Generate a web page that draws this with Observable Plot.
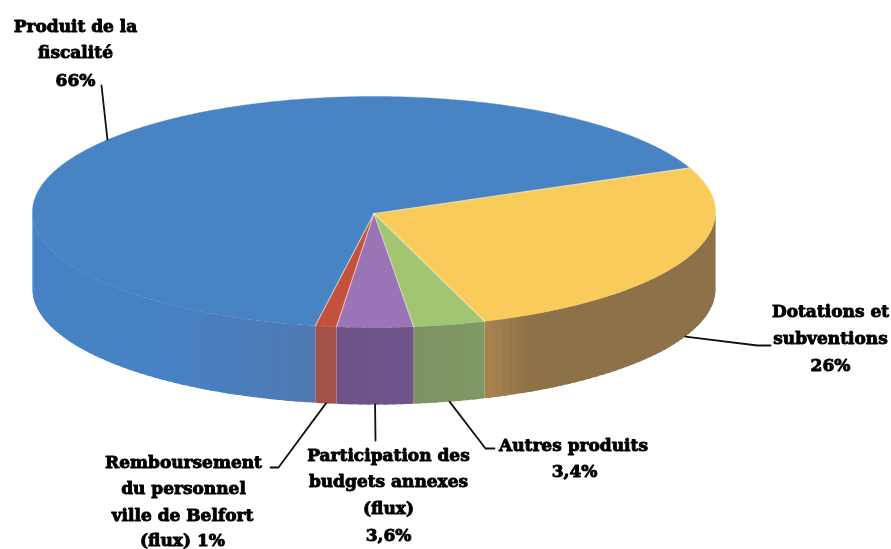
<!DOCTYPE html>
<html lang="fr">
<head>
<meta charset="utf-8">
<script src="https://cdn.jsdelivr.net/npm/d3@7"></script>
<script src="https://cdn.jsdelivr.net/npm/@observablehq/plot@0.6"></script>
<style>
html,body{margin:0;padding:0;background:#fff;}
svg{display:block;filter:blur(0.5px);}
</style>
</head>
<body>
<div id="chart"></div>
<script>
// Data, clockwise from the top of the yellow slice
const categories = ["Dotations et subventions", "Autres produits", "Participation des budgets annexes (flux)", "Remboursement du personnel ville de Belfort (flux)", "Produit de la fiscalité"];
const shares = [26, 3.4, 3.6, 1, 66];
const topColors = ["#f8cb5a", "#a2c574", "#9a74b4", "#c4503e", "#4884c4"];
const sideColorsFrom = ["#8d7148", "#7f9864", "#6f5389", "#a2524b", "#5179b4"];
const sideColorsTo = ["#a9844f", "#7f9362", "#6e5288", "#a4514a", "#4682c4"];
const sideRampStart = [0.88, 0, 0, 0, 0];
const sideRampEnd = [1, 1, 1, 1, 0.35];

// Label text and its placement
const labelLines = [
  ["Produit de la", 75, 31], ["fiscalité", 75, 57], ["66%", 75, 85],
  ["Dotations et", 830, 316], ["subventions", 830, 343], ["26%", 830, 370],
  ["Autres produits", 573, 450], ["3,4%", 574, 476],
  ["Participation des", 388, 460], ["budgets annexes", 388, 486], ["(flux)", 388, 513], ["3,6%", 388, 540],
  ["Remboursement", 183, 467], ["du personnel", 183, 493], ["ville de Belfort", 182, 520], ["(flux) 1%", 182, 545]
];
// Where each leader ends near its label, one list per category in `categories` order
const leaderEnds = [
  [[757, 345], [770, 345]],
  [[485, 448], [494, 448]],
  [[375, 440]],
  [[278, 467], [270, 467]],
  [[101, 85]]
];

// Pie geometry (tilted ellipse)
const cx = 373.5, cy = 211.5, rx = 341.5, ry = 115.5, depth = 77, startAngle = 67.5;
const rad = d => d * Math.PI / 180;
const rim = (t, drop = 0) => [cx + rx * Math.sin(rad(t)), cy - ry * Math.cos(rad(t)) + drop];
const total = d3.sum(shares);
let acc = startAngle;
const slices = categories.map((name, i) => {
  const a0 = acc, a1 = acc + shares[i] / total * 360;
  acc = a1;
  return {name, i, a0, a1, mid: (a0 + a1) / 2};
});

const topPts = [], sidePts = [], edgePts = [], leaderPts = [];
for (const s of slices) {
  // top face
  topPts.push({id: s.name, color: topColors[s.i], p: [cx, cy + 1.5]});
  const n = Math.ceil((s.a1 - s.a0) / 0.5);
  for (let k = 0; k <= n; k++) topPts.push({id: s.name, color: topColors[s.i], p: rim(s.a0 + (s.a1 - s.a0) * k / n)});
  // radial highlight at the slice start
  edgePts.push({id: s.name, p: [cx, cy + 1.5]}, {id: s.name, p: rim(s.a0)});
  // front wall, in overlapping strips shaded along the arc
  const v0 = Math.max(s.a0, 90), v1 = Math.min(s.a1, 270);
  if (v1 > v0) {
    const m = Math.max(1, Math.ceil((v1 - v0) / 1.5));
    const step = (v1 - v0) / m;
    const mix = d3.interpolateRgb(sideColorsFrom[s.i], sideColorsTo[s.i]);
    const ramp = d3.scaleLinear([sideRampStart[s.i], sideRampEnd[s.i]], [0, 1]).clamp(true);
    for (let k = 0; k < m; k++) {
      const t0 = v0 + step * k, t1 = Math.min(v1, t0 + step * 1.6);
      const id = s.name + k, color = mix(ramp((k + 0.5) / m));
      for (const t of [t0, (t0 + t1) / 2, t1]) sidePts.push({id, color, p: rim(t)});
      for (const t of [t1, (t0 + t1) / 2, t0]) sidePts.push({id, color, p: rim(t, depth)});
    }
  }
  // leader from the slice's mid angle
  const mid = ((s.mid % 360) + 360) % 360;
  const from = rim(s.mid, mid > 90 && mid < 270 ? depth : 0);
  [from, ...leaderEnds[s.i]].forEach(p => leaderPts.push({id: s.name, p}));
}

const X = d => d.p[0], Y = d => d.p[1];
const plot = Plot.plot({
  width: 891,
  height: 549,
  margin: 0,
  x: {domain: [0, 891], range: [0, 891], axis: null},
  y: {domain: [0, 549], range: [0, 549], axis: null},
  color: {type: "identity"},
  style: {background: "#fff"},
  marks: [
    Plot.line(sidePts, {x: X, y: Y, z: "id", fill: "color", stroke: "none"}),
    Plot.line(topPts, {x: X, y: Y, z: "id", fill: "color", stroke: "color", strokeWidth: 0.4}),
    Plot.line(edgePts, {x: X, y: Y, z: "id", stroke: "#fff8e0", strokeOpacity: 0.55, strokeWidth: 1.2}),
    Plot.line(leaderPts, {x: X, y: Y, z: "id", stroke: "#111", strokeWidth: 1.8}),
    Plot.text(labelLines, {
      x: d => d[1], y: d => d[2], text: d => d[0],
      textAnchor: "middle", lineAnchor: "bottom",
      fontFamily: "DejaVu Serif", fontWeight: "bold", fontSize: 17,
      fill: "#000", stroke: "#000", strokeWidth: 0.9
    })
  ]
});
document.getElementById("chart").append(plot);
</script>
</body>
</html>
